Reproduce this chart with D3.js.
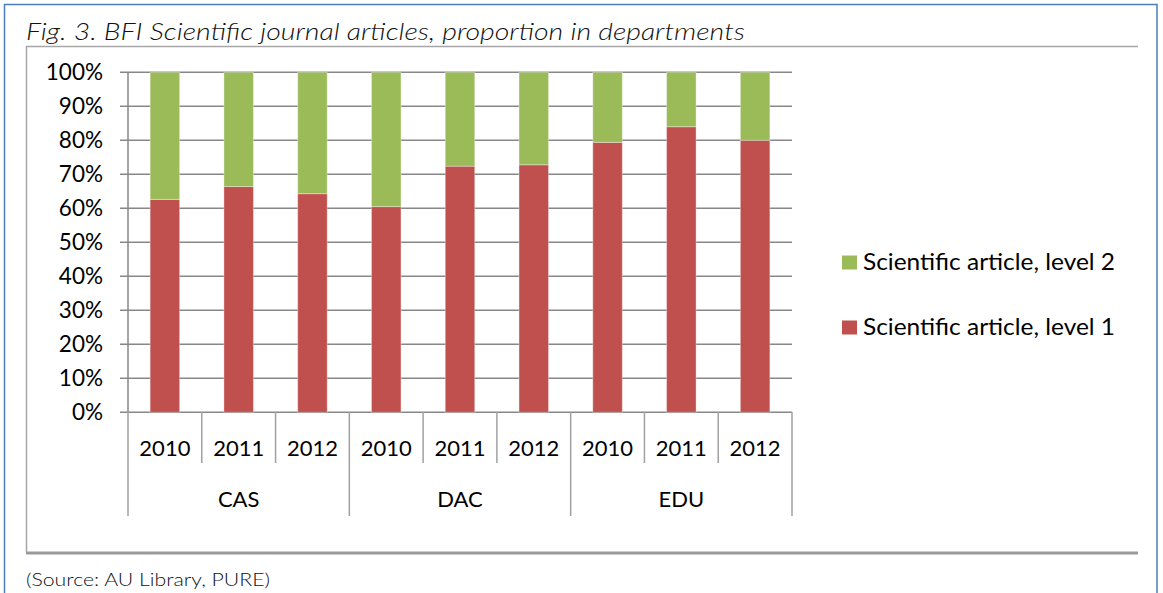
<!DOCTYPE html>
<html><head><meta charset="utf-8">
<script src="https://cdn.jsdelivr.net/npm/d3@7/dist/d3.min.js"></script>
<style>
html,body{margin:0;padding:0;background:#fff;}
svg{display:block;}
</style></head>
<body>
<svg id="chart" width="1163" height="593"></svg>
<script>
const departments = ["CAS", "DAC", "EDU"];
const years = ["2010", "2011", "2012"];
const level1 = [62.6, 66.4, 64.3, 60.5, 72.4, 72.8, 79.4, 84.0, 80.0];
const level2 = [37.4, 33.6, 35.7, 39.5, 27.6, 27.2, 20.6, 16.0, 20.0];
const seriesNames = ["Scientific article, level 1", "Scientific article, level 2"];
const seriesColors = ["#C0504D", "#9BBB59"];
const yTicks = [0, 10, 20, 30, 40, 50, 60, 70, 80, 90, 100];
const titleText = "Fig. 3. BFI Scientific journal articles, proportion in departments";
const sourceText = "(Source: AU Library, PURE)";

const rows = [];
departments.forEach((d, i) => years.forEach((y, j) => {
  const k = i * 3 + j;
  rows.push({key: d + "-" + y, dept: d, year: y, l1: level1[k], l2: level2[k]});
}));

const svg = d3.select("#chart");
const font = "Lato, 'Open Sans', sans-serif";

// outer blue frame
svg.append("path").attr("d", "M4.5,593 V4.5 H1157 V593")
  .attr("fill", "none").attr("stroke", "#4a7ebb").attr("stroke-width", 1.5);

// chart box
svg.append("path").attr("d", "M1138,46.5 H26.5 V552")
  .attr("fill", "none").attr("stroke", "#a6a6a6").attr("stroke-width", 1.5);
svg.append("line").attr("x1", 26).attr("x2", 1138).attr("y1", 553).attr("y2", 553)
  .attr("stroke", "#9a9a9a").attr("stroke-width", 3);

// title & source
svg.append("text").attr("x", 26).attr("y", 40).text(titleText)
  .attr("font-family", font).attr("font-style", "italic").attr("font-weight", 300)
  .attr("font-size", 23).attr("fill", "#111")
  .attr("textLength", 719).attr("lengthAdjust", "spacingAndGlyphs");
svg.append("text").attr("x", 26).attr("y", 586).text(sourceText)
  .attr("font-family", font).attr("font-weight", 300)
  .attr("font-size", 17).attr("fill", "#111")
  .attr("textLength", 244).attr("lengthAdjust", "spacingAndGlyphs");

const x0 = 128, x1 = 792;
const x = d3.scaleBand().domain(rows.map(r => r.key)).range([x0, x1])
  .paddingInner(0.6).paddingOuter(0.3);
const xs = d3.scaleBand().domain(rows.map(r => r.key)).range([x0, x1]).padding(0);
const y = d3.scaleLinear().domain([0, 100]).range([412.3, 72.3]);

const gridColor = "#878787";
svg.append("g").selectAll("line").data(yTicks).join("line")
  .attr("x1", 120).attr("x2", x1).attr("y1", d => y(d)).attr("y2", d => y(d))
  .attr("stroke", gridColor).attr("stroke-width", 1.5);
svg.append("g").selectAll("text").data(yTicks).join("text")
  .attr("x", 103).attr("y", d => y(d) + 8).attr("text-anchor", "end")
  .attr("font-family", font).attr("font-size", 22.5).attr("fill", "#000")
  .text(d => d + "%");

// bars
const stacked = d3.stack().keys(["l1", "l2"])(rows);
svg.append("g").selectAll("g").data(stacked).join("g")
  .attr("fill", (d, i) => seriesColors[i])
  .selectAll("rect").data(d => d).join("rect")
  .attr("x", d => x(d.data.key)).attr("width", x.bandwidth())
  .attr("y", d => y(d[1])).attr("height", d => y(d[0]) - y(d[1]))
  .attr("stroke", "#fff").attr("stroke-opacity", 0.35).attr("stroke-width", 1);

svg.append("line").attr("x1", x0).attr("x2", x0).attr("y1", y(100)).attr("y2", 412)
  .attr("stroke", gridColor).attr("stroke-width", 1.5);

// category axis separators
const bounds = d3.range(0, rows.length + 1);
svg.append("g").selectAll("line").data(bounds).join("line")
  .attr("x1", i => i < rows.length ? xs(rows[i].key) : x1)
  .attr("x2", i => i < rows.length ? xs(rows[i].key) : x1)
  .attr("y1", 412).attr("y2", i => i % 3 === 0 ? 516 : 463)
  .attr("stroke", "#a0a0a0").attr("stroke-width", 1.5);

svg.append("g").selectAll("text").data(rows).join("text")
  .attr("x", d => xs(d.key) + xs.bandwidth() / 2).attr("y", 456)
  .attr("text-anchor", "middle").attr("font-family", font).attr("font-size", 22)
  .attr("fill", "#000").text(d => d.year);
svg.append("g").selectAll("text").data(departments).join("text")
  .attr("x", (d, i) => (xs(rows[i * 3].key) + xs(rows[i * 3 + 2].key) + xs.bandwidth()) / 2)
  .attr("y", 507).attr("text-anchor", "middle").attr("font-family", font)
  .attr("font-size", 22).attr("fill", "#000").text(d => d);

// legend (level 2 on top)
const legendItems = [1, 0];
const lg = svg.append("g").selectAll("g").data(legendItems).join("g")
  .attr("transform", (d, i) => `translate(842, ${262 + i * 65})`);
lg.append("rect").attr("x", 0).attr("y", -6.5).attr("width", 15).attr("height", 14)
  .attr("fill", d => seriesColors[d]);
lg.append("text").attr("x", 21).attr("y", 8).attr("font-family", font)
  .attr("font-size", 23).attr("fill", "#000")
  .attr("textLength", 252).attr("lengthAdjust", "spacingAndGlyphs")
  .text(d => seriesNames[d]);
</script>
</body></html>
